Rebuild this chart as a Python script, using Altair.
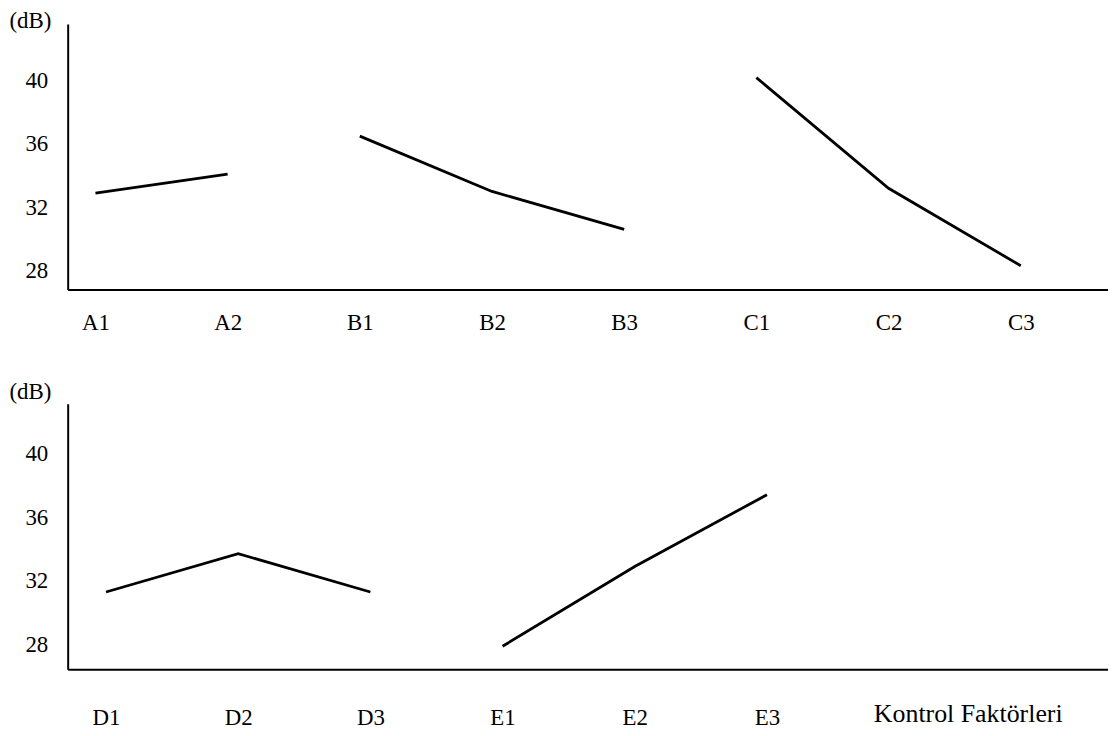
import altair as alt
import pandas as pd

# Top panel: factors A, B, C
top_levels = ["A1", "A2", "B1", "B2", "B3", "C1", "C2", "C3"]
top_factor = ["A", "A", "B", "B", "B", "C", "C", "C"]
top_values = [32.9, 34.1, 36.5, 33.0, 30.6, 40.2, 33.2, 28.3]

# Bottom panel: factors D, E
bottom_levels = ["D1", "D2", "D3", "E1", "E2", "E3"]
bottom_factor = ["D", "D", "D", "E", "E", "E"]
bottom_values = [31.3, 33.7, 31.3, 27.9, 32.9, 37.4]

y_ticks = [28, 32, 36, 40]
y_label = "(dB)"
x_label = "Kontrol Faktörleri"

FONT = "Liberation Serif"
FS = 23
W = 1046
H = 267


def panel(levels, factors, values, xdom, ydom, lab_pad, title_dy, xtitle=None):
    df = pd.DataFrame({
        "pos": list(range(len(levels))),
        "level": levels,
        "factor": factors,
        "value": values,
    })
    names = "[" + ",".join("'%s'" % s for s in levels) + "]"
    common = dict(
        values=list(range(len(levels))), labelExpr=names + "[datum.value]",
        labelAngle=0, tickSize=0, labelPadding=lab_pad, labelFontSize=FS,
        labelFont=FONT, labelColor="black", domainColor="black",
        domainWidth=2, grid=False, labelFlush=False, labelOverlap=False,
    )
    if xtitle:
        xaxis = alt.Axis(
            title=xtitle, titleFont=FONT, titleFontSize=26,
            titleFontWeight="normal", titleColor="black", titleAngle=0,
            titleAlign="center", titleBaseline="middle",
            titleX=905, titleY=44, **common,
        )
    else:
        xaxis = alt.Axis(title=None, **common)
    yaxis = alt.Axis(
        values=y_ticks, tickSize=0, labelPadding=20, labelFontSize=FS,
        labelFont=FONT, labelColor="black", domainColor="black",
        domainWidth=2, grid=False, title=y_label, titleFont=FONT,
        titleFontSize=FS, titleFontWeight="normal", titleColor="black",
        titleAngle=0, titleAlign="center", titleBaseline="middle",
        titleX=-38, titleY=title_dy,
    )
    return (
        alt.Chart(df)
        .mark_line(color="black", strokeWidth=2.8)
        .encode(
            x=alt.X("pos:Q", scale=alt.Scale(domain=xdom, nice=False, zero=False),
                    axis=xaxis),
            y=alt.Y("value:Q", scale=alt.Scale(domain=ydom, nice=False, zero=False),
                    axis=yaxis),
            detail="factor:N",
        )
        .properties(width=W, height=H)
    )


top = panel(top_levels, top_factor, top_values, [-0.21, 7.66], [26.8, 43.6], 22, -3)
bottom = panel(bottom_levels, bottom_factor, bottom_values, [-0.29, 7.58], [26.45, 43.1], 37, -12, x_label)

chart = (
    alt.vconcat(top, bottom, spacing=47)
    .configure(padding=0, background="white")
    .configure_view(stroke=None)
)

chart.save("out.html", embed_options={"renderer": "svg", "actions": False})
